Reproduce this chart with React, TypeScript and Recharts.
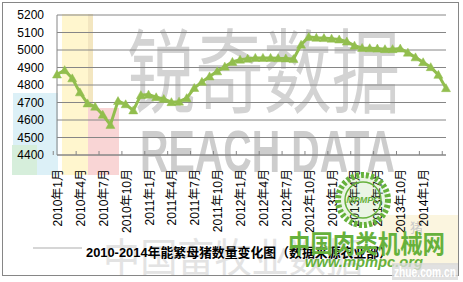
import React from 'react';
import { LineChart, Line, XAxis, YAxis, CartesianGrid } from 'recharts';

const months = [
  '2010年1月', '2010年2月', '2010年3月', '2010年4月', '2010年5月', '2010年6月',
  '2010年7月', '2010年8月', '2010年9月', '2010年10月', '2010年11月', '2010年12月',
  '2011年1月', '2011年2月', '2011年3月', '2011年4月', '2011年5月', '2011年6月',
  '2011年7月', '2011年8月', '2011年9月', '2011年10月', '2011年11月', '2011年12月',
  '2012年1月', '2012年2月', '2012年3月', '2012年4月', '2012年5月', '2012年6月',
  '2012年7月', '2012年8月', '2012年9月', '2012年10月', '2012年11月', '2012年12月',
  '2013年1月', '2013年2月', '2013年3月', '2013年4月', '2013年5月', '2013年6月',
  '2013年7月', '2013年8月', '2013年9月', '2013年10月', '2013年11月', '2013年12月',
  '2014年1月', '2014年2月', '2014年3月', '2014年4月',
];

const sowStock = [
  4860, 4885, 4838, 4758, 4695, 4676, 4630, 4572, 4708, 4690, 4655, 4742,
  4745, 4730, 4720, 4702, 4705, 4725, 4783, 4818, 4849, 4878, 4905, 4932,
  4945, 4950, 4955, 4955, 4955, 4953, 4952, 4948, 5030, 5075, 5070, 5068,
  5065, 5060, 5048, 5025, 5012, 5010, 5008, 5005, 5005, 5008, 4985, 4958,
  4930, 4902, 4858, 4782,
];

const tickLabels = [
  '2010年1月', '2010年4月', '2010年7月', '2010年10月',
  '2011年1月', '2011年4月', '2011年7月', '2011年10月',
  '2012年1月', '2012年4月', '2012年7月', '2012年10月',
  '2013年1月', '2013年4月', '2013年7月', '2013年10月',
  '2014年1月',
];

const yTicks = [4400, 4500, 4600, 4700, 4800, 4900, 5000, 5100, 5200];

const title = '2010-2014年能繁母猪数量变化图（数据来源农业部）';

const data = months.map((m, i) => ({ month: m, value: sowStock[i] }));

const LINE_COLOR = '#92BE4E';
const AXIS_COLOR = '#868686';
const FONT = '"Liberation Sans", Arial, "Noto Sans CJK SC", sans-serif';

const XTick = (props: any) => {
  const { x, y, payload } = props;
  const half = payload && typeof payload.offset === 'number' && payload.offset > 0 ? payload.offset : 3.74;
  const show = tickLabels.includes(payload.value);
  return (
    <g>
      <line x1={x - half} x2={x - half} y1={y - 4} y2={y} stroke={AXIS_COLOR} strokeWidth={1} />
      {show && (
        <text
          transform={`translate(${x + 1},${y + 14}) rotate(-90)`}
          textAnchor="end"
          dominantBaseline="central"
          fontSize={12}
          fill="#000"
          fontFamily={FONT}
        >
          {payload.value}
        </text>
      )}
    </g>
  );
};

const TriangleDot = (props: any) => {
  const { cx, cy, index } = props;
  if (cx == null || cy == null) return <g key={`d-${index}`} />;
  const pts = `${cx},${cy - 4.5} ${cx - 4.5},${cy + 3.5} ${cx + 4.5},${cy + 3.5}`;
  return <polygon key={`d-${index}`} points={pts} fill={LINE_COLOR} stroke={LINE_COLOR} strokeWidth={0.5} />;
};

export default function App() {
  return (
    <div style={{ position: 'absolute', left: 0, top: 0, width: 463, height: 282, background: '#fff', overflow: 'hidden' }}>
      <svg width={463} height={282} style={{ position: 'absolute', left: 0, top: 0 }}>
        <rect x={0} y={0} width={463} height={282} fill="#fff" />
        <rect x={13} y={93} width={45} height={82} fill="#DCF0F7" />
        <rect x={12} y={145} width={25} height={30} fill="#D6EEDB" />
        <rect x={62} y={14} width={31} height={161} fill="#FFF6CE" />
        <rect x={88} y={14} width={5} height={161} fill="#F3E6C0" />
        <rect x={88} y={108} width={31} height={67} fill="#F9D5D5" />
        <rect x={380} y={215} width={78} height={50} fill="#FBF5DF" />
        <text x={127} y={106} fontSize={92} textLength={273} lengthAdjust="spacingAndGlyphs"
          fill="#D3D3D3" fontFamily='"Noto Sans CJK SC", sans-serif'>锐奇数据</text>
        <text x={140} y={172} fontSize={60} fontWeight="bold" textLength={255} lengthAdjust="spacingAndGlyphs"
          fill="#CDCDCD" fontFamily='"Liberation Sans", Arial, sans-serif'>REACH DATA</text>
        <line x1={33} x2={82} y1={248} y2={248} stroke="#D6D6D6" strokeWidth={2} />
        <text x={103} y={272} fontSize={40} textLength={260} lengthAdjust="spacingAndGlyphs"
          fill="#E3E3E3" fontFamily='"Noto Sans CJK SC", sans-serif'>中国畜牧业数据</text>
        <text x={410} y={232} fontSize={13} fill="#C9C9C9" fontFamily='"Noto Sans CJK SC", sans-serif'>猪</text>
        <text x={239} y={257} fontSize={13} fontWeight="bold" textAnchor="middle" textLength={306}
          lengthAdjust="spacingAndGlyphs" fill="#000" fontFamily='"Liberation Sans", Arial, "Noto Sans CJK SC", sans-serif'>
          {title}
        </text>
        <rect x={2.5} y={2.5} width={456} height={273} fill="none" stroke={AXIS_COLOR} strokeWidth={1} />
      </svg>

      <div style={{ position: 'absolute', left: 0, top: 0 }}>
        <LineChart
          width={463}
          height={282}
          data={data}
          margin={{ top: 15, right: 17, bottom: 0, left: 0 }}
          style={{ fontFamily: FONT }}
        >
          <CartesianGrid horizontal vertical={false} stroke={AXIS_COLOR} strokeDasharray="" />
          <XAxis
            dataKey="month"
            interval={2}
            height={127}
            tickSize={0}
            tickMargin={0}
            tickLine={false}
            axisLine={{ stroke: AXIS_COLOR }}
            tick={<XTick />}
          />
          <YAxis
            domain={[4400, 5200]}
            ticks={yTicks}
            interval={0}
            width={57}
            tickSize={0}
            tickMargin={13}
            tickLine={false}
            axisLine={{ stroke: AXIS_COLOR }}
            tick={{ fontSize: 12, fill: '#000', fontFamily: FONT }}
            allowDataOverflow
          />
          <Line
            type="linear"
            dataKey="value"
            stroke={LINE_COLOR}
            strokeWidth={3}
            dot={TriangleDot}
            activeDot={false}
            isAnimationActive={false}
          />
        </LineChart>
      </div>

      <svg width={463} height={282} style={{ position: 'absolute', left: 0, top: 0, pointerEvents: 'none' }}>
        <circle cx={363} cy={200} r={25} fill="rgba(120,190,80,0.15)" stroke="#66B13C" strokeWidth={6} strokeDasharray="3 2" />
        <circle cx={363} cy={200} r={18} fill="none" stroke="#66B13C" strokeWidth={1.5} />
        <text x={363} y={203} fontSize={9} fontStyle="italic" fontWeight="bold" textAnchor="middle"
          fill="#66B13C" fontFamily='"Liberation Sans", Arial, sans-serif'>MPMPC</text>
        <text x={288} y={253} fontSize={25} fontWeight="bold" textLength={157} lengthAdjust="spacingAndGlyphs"
          fill="#66B13C" fontFamily='"Noto Sans CJK SC", sans-serif'>中国肉类机械网</text>
        <text x={305} y={267} fontSize={15} fontWeight="bold" fontStyle="italic" textLength={118}
          lengthAdjust="spacingAndGlyphs" fill="#66B13C" fontFamily='"Liberation Sans", Arial, sans-serif'>www.mpmpc.org</text>
        <rect x={392} y={263} width={66} height={17} fill="#D9D9D9" opacity={0.8} />
        <text x={394} y={277} fontSize={14} fontWeight="bold" textLength={62} lengthAdjust="spacingAndGlyphs"
          fill="#fff" fontFamily='"Liberation Sans", Arial, sans-serif'>zhue.com.cn</text>
      </svg>
    </div>
  );
}
